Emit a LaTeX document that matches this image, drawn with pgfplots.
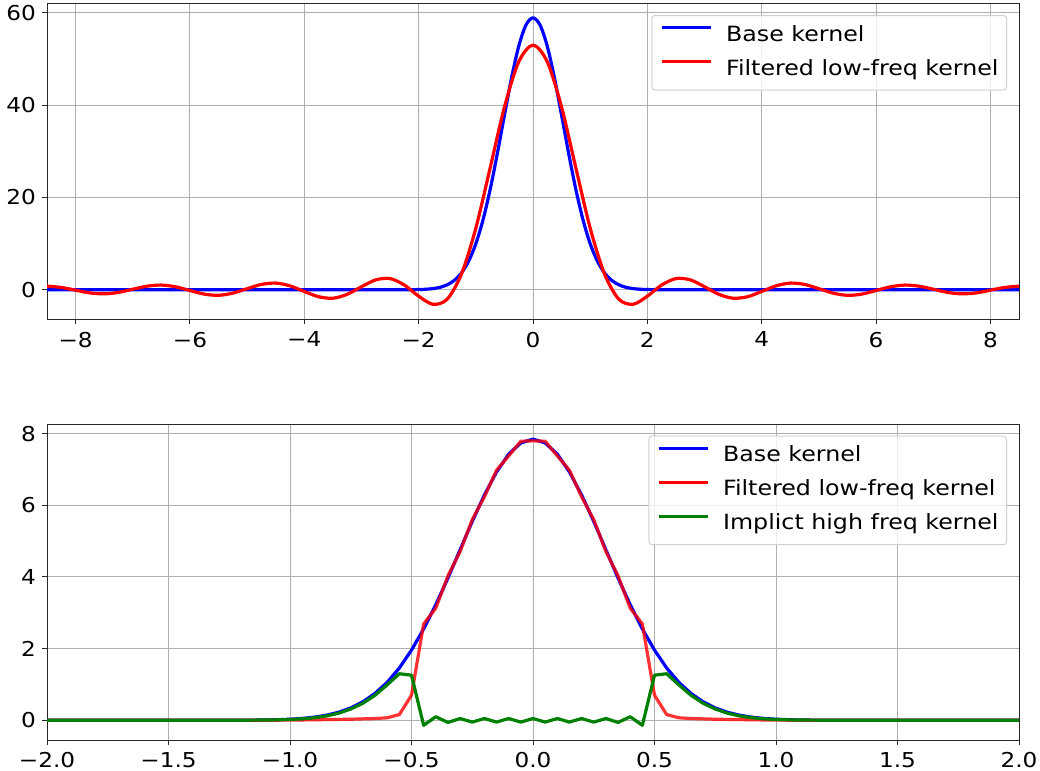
\documentclass[border=0pt]{standalone}
\usepackage{pgfplots}
\usepackage{pgfplotstable}
\pgfplotsset{compat=1.18}
\usepackage{fontspec}
\setmainfont{DejaVu Sans}[FakeStretch=1.13]

\pgfplotstableread{
x y
-8.5 0
-4 0
-2.5 0
-2.25 0.007
-2 0.048
-1.875 0.114
-1.75 0.255
-1.625 0.541
-1.5 1.083
-1.375 2.051
-1.25 3.673
-1.125 6.224
-1 9.977
-0.875 15.13
-0.75 21.71
-0.625 29.46
-0.5 37.82
-0.375 45.93
-0.25 52.77
-0.125 57.35
0 58.96
0.125 57.35
0.25 52.77
0.375 45.93
0.5 37.82
0.625 29.46
0.75 21.71
0.875 15.13
1 9.977
1.125 6.224
1.25 3.673
1.375 2.051
1.5 1.083
1.625 0.541
1.75 0.255
1.875 0.114
2 0.048
2.25 0.007
2.5 0
4 0
8.5 0
}\topblue

\pgfplotstableread{
x y
-8.5 0.78
-8.25 0.51
-8.0 -0.09
-7.75 -0.68
-7.5 -0.88
-7.25 -0.57
-7.0 0.12
-6.75 0.78
-6.5 1.02
-6.25 0.64
-6.0 -0.16
-5.75 -0.94
-5.5 -1.20
-5.25 -0.73
-5.0 0.24
-4.75 1.16
-4.5 1.45
-4.25 0.85
-4.0 -0.37
-3.75 -1.51
-3.5 -1.83
-3.25 -0.98
-3.0 0.66
-2.75 2.15
-2.5 2.43
-2.25 1.03
-2.0 -1.38
-1.75 -3.15
-1.5 -2.03
-1.25 3.443
-1.0 13.36
-0.75 26.39
-0.5 39.59
-0.25 49.41
0 53.05
0.25 49.41
0.5 39.59
0.75 26.39
1.0 13.36
1.25 3.443
1.5 -2.03
1.75 -3.15
2.0 -1.38
2.25 1.03
2.5 2.43
2.75 2.15
3.0 0.66
3.25 -0.98
3.5 -1.83
3.75 -1.51
4.0 -0.37
4.25 0.85
4.5 1.45
4.75 1.16
5.0 0.24
5.25 -0.73
5.5 -1.20
5.75 -0.94
6.0 -0.16
6.25 0.64
6.5 1.02
6.75 0.78
7.0 0.12
7.25 -0.57
7.5 -0.88
7.75 -0.68
8.0 -0.09
8.25 0.51
8.5 0.78
}\topred

\pgfplotstableread{
x b r g
-2.0 0 0 0
-1.30 0 0 0
-1.25 0.001 0 0.001
-1.20 0.003 0 0.003
-1.15 0.005 0 0.005
-1.10 0.009 0.002 0.007
-1.05 0.017 0.004 0.013
-1.00 0.030 0.007 0.023
-0.95 0.052 0.010 0.042
-0.90 0.087 0.015 0.072
-0.85 0.142 0.020 0.122
-0.80 0.224 0.025 0.199
-0.75 0.345 0.030 0.315
-0.70 0.516 0.040 0.476
-0.65 0.751 0.050 0.700
-0.60 1.06 0.07 0.99
-0.55 1.46 0.16 1.30
-0.50 1.96 0.70 1.26
-0.45 2.55 2.69 -0.14
-0.40 3.23 3.13 0.10
-0.35 3.97 4.03 -0.06
-0.30 4.76 4.71 0.05
-0.25 5.55 5.60 -0.05
-0.20 6.29 6.24 0.05
-0.15 6.93 6.98 -0.05
-0.10 7.43 7.38 0.05
-0.05 7.74 7.79 -0.05
0.00 7.85 7.80 0.05
0.05 7.74 7.79 -0.05
0.10 7.43 7.38 0.05
0.15 6.93 6.98 -0.05
0.20 6.29 6.24 0.05
0.25 5.55 5.60 -0.05
0.30 4.76 4.71 0.05
0.35 3.97 4.03 -0.06
0.40 3.23 3.13 0.10
0.45 2.55 2.69 -0.14
0.50 1.96 0.70 1.26
0.55 1.46 0.16 1.30
0.60 1.06 0.07 0.99
0.65 0.751 0.050 0.700
0.70 0.516 0.040 0.476
0.75 0.345 0.030 0.315
0.80 0.224 0.025 0.199
0.85 0.142 0.020 0.122
0.90 0.087 0.015 0.072
0.95 0.052 0.010 0.042
1.00 0.030 0.007 0.023
1.05 0.017 0.004 0.013
1.10 0.009 0.002 0.007
1.15 0.005 0 0.005
1.20 0.003 0 0.003
1.25 0.001 0 0.001
1.30 0 0 0
2.0 0 0 0
}\bottomdata

\definecolor{mplgreen}{RGB}{0,128,0}
\definecolor{gridgray}{RGB}{176,176,176}

\pgfplotsset{
  myaxis/.style={
    scale only axis,
    width=972bp, height=316bp,
    axis line style={line width=1bp, black!85},
    grid=major,
    major grid style={line width=1bp, gridgray},
    tick align=outside,
    tick pos=lower,
    major tick length=5bp,
    major tick style={line width=1bp, black!85},
    tick label style={font=\fontsize{20.5bp}{24bp}\selectfont, inner sep=0pt},
    xticklabel shift=7.4bp,
    yticklabel shift=6bp,
    legend cell align=left,
    legend style={
      at={(1,1)}, anchor=north east, xshift=-12bp, yshift=-11.7bp,
      draw=black!18, line width=1bp, rounded corners=3bp,
      fill=white, fill opacity=0.8, text opacity=1,
      font=\fontsize{21bp}{25bp}\selectfont,
      inner xsep=8bp, inner ysep=10.5bp,
      row sep=14.5bp,
      nodes={inner sep=0pt, text height=15bp, text depth=4.5bp},
    },
    legend image code/.code={\draw[##1, line width=3.2bp, opacity=1] (0bp,8bp) -- (49bp,8bp); \path (63bp,8bp);},
  }
}

\begin{document}
\begin{tikzpicture}
\useasboundingbox (0,0) rectangle (1040bp,-771bp);
\begin{axis}[myaxis,
  at={(47bp,-319.3bp)}, anchor=south west,
  xmin=-8.5, xmax=8.5, ymin=-6.4, ymax=62.1,
  xtick={-8,-6,-4,-2,0,2,4,6,8},
  xticklabels={−8,−6,−4,−2,0,2,4,6,8},
  ytick={0,20,40,60},
  yticklabels={0,20,40,60},
]
\addplot[blue, line width=3.2bp, smooth, line join=round] table[x=x,y=y]{\topblue};
\addlegendentry{Base kernel}
\addplot[red, line width=3.2bp, smooth, line join=round] table[x=x,y=y]{\topred};
\addlegendentry{Filtered low-freq kernel}
\end{axis}

\begin{axis}[myaxis,
  at={(47bp,-740bp)}, anchor=south west,
  xmin=-2, xmax=2, ymin=-0.55, ymax=8.27,
  xtick={-2,-1.5,-1,-0.5,0,0.5,1,1.5,2},
  xticklabels={−2.0,−1.5,−1.0,−0.5,0.0,0.5,1.0,1.5,2.0},
  ytick={0,2,4,6,8},
  yticklabels={0,2,4,6,8},
]
\addplot[blue, line width=3.2bp, line join=round] table[x=x,y=b]{\bottomdata};
\addlegendentry{Base kernel}
\addplot[red, draw opacity=0.8, line width=3.2bp, line join=round] table[x=x,y=r]{\bottomdata};
\addlegendentry{Filtered low-freq kernel}
\addplot[mplgreen, line width=3.2bp, line join=round] table[x=x,y=g]{\bottomdata};
\addlegendentry{Implict high freq kernel}
\end{axis}
\end{tikzpicture}
\end{document}
